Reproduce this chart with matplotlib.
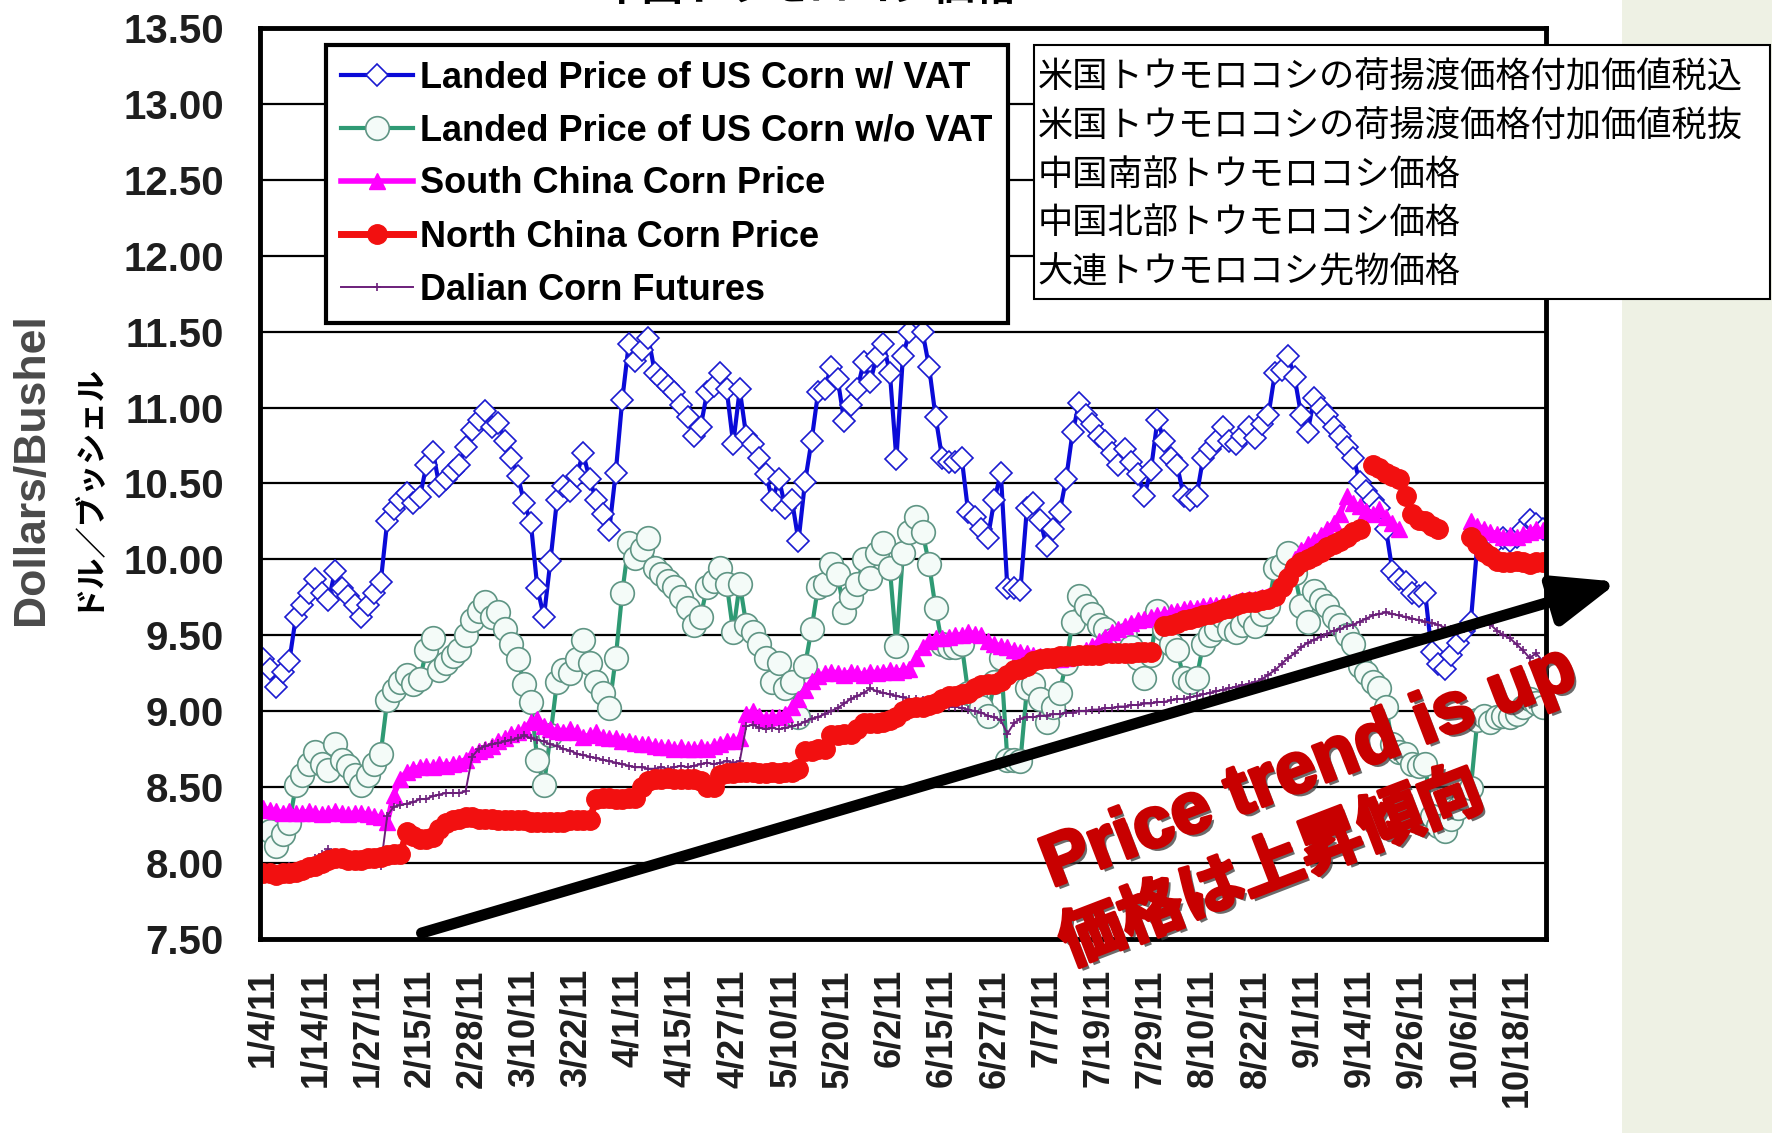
import numpy as np
import matplotlib
matplotlib.use('Agg')
import matplotlib.pyplot as plt
import matplotlib.patheffects as pe
from matplotlib.patches import Rectangle, FancyArrowPatch, ArrowStyle

plt.rcParams['font.family'] = ['Liberation Sans', 'Noto Sans CJK JP', 'DejaVu Sans']

nan = np.nan

# Trading-day series, 2011 (USD per bushel)
date_labels = ['1/4/11', '1/14/11', '1/27/11', '2/15/11', '2/28/11', '3/10/11',
               '3/22/11', '4/1/11', '4/15/11', '4/27/11', '5/10/11', '5/20/11',
               '6/2/11', '6/15/11', '6/27/11', '7/7/11', '7/19/11', '7/29/11',
               '8/10/11', '8/22/11', '9/1/11', '9/14/11', '9/26/11', '10/6/11',
               '10/18/11']

landed_vat = [
    9.34, 9.28, 9.16, 9.26, 9.33, 9.62, 9.70, 9.78, 9.87, 9.78,
    9.73, 9.92, 9.81, 9.76, 9.70, 9.62, 9.70, 9.78, 9.85, 10.25,
    10.33, 10.39, 10.44, 10.37, 10.41, 10.62, 10.71, 10.48, 10.53, 10.58,
    10.62, 10.74, 10.85, 10.92, 10.98, 10.87, 10.90, 10.78, 10.67, 10.55,
    10.37, 10.24, 9.81, 9.62, 9.99, 10.39, 10.48, 10.45, 10.55, 10.70,
    10.53, 10.39, 10.30, 10.19, 10.57, 11.05, 11.42, 11.31, 11.38, 11.46,
    11.23, 11.19, 11.14, 11.10, 11.02, 10.94, 10.81, 10.87, 11.10, 11.14,
    11.23, 11.12, 10.76, 11.12, 10.81, 10.76, 10.67, 10.56, 10.39, 10.53,
    10.34, 10.39, 10.12, 10.51, 10.78, 11.10, 11.12, 11.27, 11.19, 10.91,
    11.02, 11.12, 11.30, 11.17, 11.34, 11.42, 11.23, 10.66, 11.34, 11.50,
    11.62, 11.50, 11.27, 10.94, 10.67, 10.64, 10.64, 10.67, 10.31, 10.28,
    10.20, 10.14, 10.39, 10.57, 9.81, 9.81, 9.80, 10.34, 10.37, 10.26,
    10.09, 10.20, 10.31, 10.53, 10.84, 11.03, 10.95, 10.89, 10.81, 10.78,
    10.70, 10.62, 10.73, 10.64, 10.56, 10.42, 10.59, 10.92, 10.78, 10.67,
    10.62, 10.42, 10.39, 10.42, 10.67, 10.73, 10.78, 10.87, 10.78, 10.76,
    10.81, 10.87, 10.80, 10.89, 10.95, 11.23, 11.25, 11.34, 11.20, 10.95,
    10.84, 11.06, 11.00, 10.95, 10.87, 10.81, 10.74, 10.67, 10.51, 10.45,
    10.39, 10.34, 10.20, 9.92, 9.87, 9.85, 9.78, 9.76, 9.78, 9.39,
    9.31, 9.28, 9.37, 9.45, 9.53, 9.59, 10.10, 10.14, 10.09, 10.12,
    10.14, 10.12, 10.15, 10.20, 10.26, 10.23, 10.20]

landed_novat = [
    8.27, 8.21, 8.11, 8.19, 8.26, 8.51, 8.58, 8.65, 8.73, 8.65,
    8.61, 8.78, 8.68, 8.64, 8.58, 8.51, 8.58, 8.65, 8.72, 9.07,
    9.14, 9.19, 9.24, 9.18, 9.21, 9.40, 9.48, 9.27, 9.32, 9.36,
    9.40, 9.50, 9.60, 9.66, 9.72, 9.62, 9.65, 9.54, 9.44, 9.34,
    9.18, 9.06, 8.68, 8.51, 8.84, 9.19, 9.27, 9.25, 9.34, 9.47,
    9.32, 9.19, 9.12, 9.02, 9.35, 9.78, 10.11, 10.01, 10.07, 10.14,
    9.94, 9.90, 9.86, 9.82, 9.75, 9.68, 9.57, 9.62, 9.82, 9.86,
    9.94, 9.84, 9.52, 9.84, 9.57, 9.52, 9.44, 9.35, 9.19, 9.32,
    9.15, 9.19, 8.96, 9.30, 9.54, 9.82, 9.84, 9.97, 9.90, 9.65,
    9.75, 9.84, 10.00, 9.88, 10.04, 10.11, 9.94, 9.43, 10.04, 10.18,
    10.28, 10.18, 9.97, 9.68, 9.44, 9.42, 9.42, 9.44, 9.12, 9.10,
    9.03, 8.97, 9.19, 9.35, 8.68, 8.68, 8.67, 9.15, 9.18, 9.08,
    8.93, 9.03, 9.12, 9.32, 9.59, 9.76, 9.69, 9.64, 9.57, 9.54,
    9.47, 9.40, 9.50, 9.42, 9.35, 9.22, 9.37, 9.66, 9.54, 9.44,
    9.40, 9.22, 9.19, 9.22, 9.44, 9.50, 9.54, 9.62, 9.54, 9.52,
    9.57, 9.62, 9.56, 9.64, 9.69, 9.94, 9.96, 10.04, 9.91, 9.69,
    9.59, 9.79, 9.73, 9.69, 9.62, 9.57, 9.50, 9.44, 9.30, 9.25,
    9.19, 9.15, 9.03, 8.78, 8.73, 8.72, 8.65, 8.64, 8.65, 8.31,
    8.24, 8.21, 8.29, 8.36, 8.43, 8.49, 8.94, 8.97, 8.93, 8.96,
    8.97, 8.96, 8.98, 9.03, 9.08, 9.05, 9.03]

south_china = [
    8.36, 8.35, 8.34, 8.33, 8.34, 8.33, 8.33, 8.34, 8.33, 8.32,
    8.33, 8.34, 8.33, 8.32, 8.33, 8.33, 8.32, 8.31, 8.30, 8.27,
    8.45, 8.55, 8.60, 8.62, 8.63, 8.64, 8.63, 8.65, 8.64, 8.65,
    8.66, 8.68, 8.72, 8.74, 8.75, 8.77, 8.80, 8.82, 8.85, 8.86,
    8.88, 8.93, 8.95, 8.90, 8.88, 8.87, 8.86, 8.88, 8.86, 8.83,
    8.84, 8.86, 8.83, 8.82, 8.82, 8.80, 8.80, 8.79, 8.78, 8.78,
    8.77, 8.76, 8.76, 8.75, 8.76, 8.75, 8.75, 8.76, 8.75, 8.77,
    8.78, 8.80, 8.80, 8.82, 8.98, 9.00, 8.97, 8.95, 8.96, 8.96,
    8.98, 9.03, 9.08, 9.14, 9.20, 9.23, 9.25, 9.26, 9.25, 9.24,
    9.26, 9.25, 9.24, 9.26, 9.25, 9.26, 9.27, 9.26, 9.27, 9.28,
    9.35, 9.42, 9.46, 9.48, 9.48, 9.49, 9.50, 9.50, 9.52, 9.51,
    9.50, 9.46, 9.44, 9.43, 9.42, 9.40, 9.39, 9.38, 9.37, 9.36,
    9.35, 9.34, 9.34, 9.35, 9.36, 9.38, 9.40, 9.43, 9.46, 9.49,
    9.52, 9.54, 9.56, 9.58, 9.60, 9.61, 9.62, 9.63, 9.64, 9.65,
    9.66, 9.67, 9.68, 9.68, 9.69, 9.70, 9.70, 9.71, 9.72, 9.72,
    9.73, 9.74, 9.74, 9.75, 9.76, 9.80, 9.86, 9.93, 10.00, 10.06,
    10.10, 10.13, 10.16, 10.20, 10.24, 10.30, 10.42, 10.37, 10.35, 10.32,
    10.30, 10.33, 10.28, 10.24, 10.20, nan, nan, nan, nan, nan,
    nan, nan, nan, nan, nan, 10.25, 10.22, 10.20, 10.18, 10.17,
    10.15, 10.16, 10.15, 10.17, 10.18, 10.20, 10.19]

north_china = [
    7.93, 7.93, 7.92, 7.93, 7.93, 7.94, 7.95, 7.97, 7.98, 8.00,
    8.02, 8.03, 8.03, 8.02, 8.02, 8.02, 8.03, 8.03, 8.04, 8.05,
    8.06, 8.06, 8.20, 8.18, 8.16, 8.16, 8.17, 8.22, 8.26, 8.28,
    8.29, 8.30, 8.30, 8.29, 8.29, 8.29, 8.28, 8.28, 8.28, 8.28,
    8.28, 8.27, 8.27, 8.27, 8.27, 8.27, 8.27, 8.28, 8.28, 8.28,
    8.28, 8.42, 8.43, 8.43, 8.42, 8.42, 8.43, 8.43, 8.50, 8.54,
    8.55, 8.55, 8.56, 8.55, 8.55, 8.55, 8.55, 8.54, 8.50, 8.50,
    8.58, 8.59, 8.59, 8.60, 8.60, 8.60, 8.59, 8.59, 8.60, 8.59,
    8.60, 8.60, 8.62, 8.74, 8.74, 8.75, 8.75, 8.84, 8.84, 8.85,
    8.85, 8.88, 8.92, 8.92, 8.92, 8.93, 8.94, 8.96, 9.00, 9.02,
    9.03, 9.03, 9.04, 9.05, 9.08, 9.10, 9.10, 9.11, 9.12, 9.15,
    9.17, 9.18, 9.18, 9.20, 9.24, 9.27, 9.28, 9.30, 9.33, 9.34,
    9.35, 9.35, 9.36, 9.36, 9.36, 9.37, 9.37, 9.37, 9.37, 9.38,
    9.38, 9.38, 9.38, 9.38, 9.39, 9.39, 9.39, nan, 9.56, 9.57,
    9.58, 9.60, 9.61, 9.62, 9.63, 9.64, 9.65, 9.67, 9.68, 9.70,
    9.71, 9.72, 9.72, 9.73, 9.74, 9.76, 9.82, 9.88, 9.95, 9.98,
    10.00, 10.02, 10.05, 10.08, 10.10, 10.12, 10.15, 10.18, 10.20, nan,
    10.62, 10.60, 10.57, 10.55, 10.53, 10.42, 10.30, 10.26, 10.25, 10.22,
    10.20, nan, nan, nan, nan, 10.15, 10.10, 10.05, 10.02, 9.99,
    9.98, 9.98, 9.99, 9.98, 9.97, 9.98, 9.98]

dalian_futures = [
    7.97, 7.97, 7.96, 7.97, 7.98, 7.97, 7.98, 8.00, 8.03, 8.06,
    8.09, 8.05, 8.04, 8.03, 8.02, 8.01, 8.00, 7.99, 7.98, 8.31,
    8.37, 8.38, 8.39, 8.40, 8.42, 8.42, 8.44, 8.45, 8.46, 8.46,
    8.46, 8.47, 8.70, 8.75, 8.77, 8.78, 8.79, 8.80, 8.81, 8.82,
    8.84, 8.82, 8.81, 8.80, 8.78, 8.77, 8.75, 8.74, 8.72, 8.71,
    8.70, 8.69, 8.68, 8.67, 8.66, 8.65, 8.64, 8.63, 8.63, 8.62,
    8.62, 8.63, 8.62, 8.63, 8.64, 8.63, 8.64, 8.65, 8.66, 8.65,
    8.66, 8.67, 8.66, 8.67, 8.90, 8.91, 8.89, 8.88, 8.89, 8.88,
    8.89, 8.90, 8.91, 8.93, 8.95, 8.96, 8.98, 9.00, 9.02, 9.05,
    9.08, 9.10, 9.12, 9.15, 9.13, 9.12, 9.11, 9.10, 9.09, 9.08,
    9.08, 9.07, 9.06, 9.05, 9.04, 9.03, 9.03, 9.02, 9.01, 9.00,
    8.99, 8.97, 8.96, 8.94, 8.85, 8.92, 8.95, 8.96, 8.96, 8.97,
    8.97, 8.98, 8.98, 8.99, 8.99, 9.00, 9.00, 9.01, 9.01, 9.02,
    9.02, 9.03, 9.03, 9.04, 9.04, 9.05, 9.05, 9.06, 9.06, 9.07,
    9.08, 9.08, 9.09, 9.10, 9.11, 9.12, 9.13, 9.14, 9.15, 9.16,
    9.17, 9.18, 9.19, 9.21, 9.24, 9.27, 9.31, 9.35, 9.38, 9.42,
    9.45, 9.47, 9.49, 9.51, 9.53, 9.54, 9.56, 9.57, 9.59, 9.61,
    9.63, 9.64, 9.65, 9.64, 9.63, 9.62, 9.61, 9.60, 9.59, 9.58,
    9.57, 9.55, 9.54, 9.53, 9.54, 9.55, 9.57, 9.58, 9.57, 9.53,
    9.50, 9.48, 9.44, 9.40, 9.35, 9.38, 9.33]

jp_labels = ['米国トウモロコシの荷揚渡価格付加価値税込',
             '米国トウモロコシの荷揚渡価格付加価値税抜',
             '中国南部トウモロコシ価格',
             '中国北部トウモロコシ価格',
             '大連トウモロコシ先物価格']

fig = plt.figure(figsize=(17.72, 11.33), dpi=100)
fig.patch.set_facecolor('white')

# pale side strip
fig.add_artist(Rectangle((0.9152, 0), 0.0848, 1, transform=fig.transFigure,
                         facecolor='#eef1e4', edgecolor='none', zorder=0))

ax = fig.add_axes([0.1467, 0.1715, 0.7257, 0.8036])
x = np.arange(len(landed_vat))

ax.plot(x, landed_novat, color='#2f9a74', lw=3, marker='o', ms=17,
        mfc='#f4fbf8', mec='#5f9584', mew=1.2, zorder=2.0,
        label='Landed Price of US Corn w/o VAT')
ax.plot(x, landed_vat, color='#0a0ad8', lw=3, marker='D', ms=11,
        mfc='white', mec='#1a1ad0', mew=1.2, zorder=2.1,
        label='Landed Price of US Corn w/ VAT')
ax.plot(x, south_china, color='#ff00ff', lw=4, marker='^', ms=11,
        mfc='#ff00ff', mec='#ff00ff', zorder=2.2,
        label='South China Corn Price')
ax.plot(x, dalian_futures, color='#6b1f7a', lw=1.4, marker='+', ms=6,
        mew=1.2, zorder=2.3, label='Dalian Corn Futures')
ax.plot(x, north_china, color='#f21010', lw=5, marker='o', ms=14,
        mfc='#f21010', mec='#f21010', zorder=2.4,
        label='North China Corn Price')

ax.set_xlim(-0.5, len(x) - 0.5)
ax.set_ylim(7.5, 13.5)
yt = np.arange(7.5, 13.51, 0.5)
ax.set_yticks(yt)
ax.set_yticklabels(['%.2f' % v for v in yt], fontsize=29, fontweight='bold',
                   color='#1e1e1e')
ax.set_xticks(x[::8])
ax.set_xticklabels(date_labels, rotation=90, fontsize=26, fontweight='bold',
                   color='#1e1e1e')
ax.tick_params(axis='y', length=0, pad=26)
ax.tick_params(axis='x', length=0, pad=22)

ax.set_axisbelow(True)
ax.yaxis.grid(True, color='black', lw=1.6)
for s in ax.spines.values():
    s.set_linewidth(3.5)
    s.set_color('black')

# legend in plotting order of the original chart
h, l = ax.get_legend_handles_labels()
order = [1, 0, 2, 4, 3]
leg = ax.legend([h[i] for i in order], [l[i] for i in order],
                loc='upper left', bbox_to_anchor=(0.1837, 0.9601),
                bbox_transform=fig.transFigure, borderaxespad=0,
                prop=dict(weight='bold', size=26), frameon=True,
                fancybox=False, edgecolor='black', framealpha=1,
                borderpad=0.42, labelspacing=0.5, handlelength=2.0,
                handletextpad=0.2, numpoints=1)
leg.get_frame().set_linewidth(3)

# Japanese series names
fig.add_artist(Rectangle((0.5835, 0.7358), 0.4152, 0.2243,
                         transform=fig.transFigure, facecolor='white',
                         edgecolor='black', lw=1.5, zorder=3))
for k, txt in enumerate(jp_labels):
    fig.text(0.5855, 0.9322 - k * 0.0431, txt, ha='left', va='center',
             fontsize=25.4, family=['Noto Sans CJK JP'], color='black',
             zorder=4)

# axis titles
fig.text(0.0179, 0.586, 'Dollars/Bushel', rotation=90, ha='center',
         va='center', fontsize=32, fontweight='bold', color='#4a4a4a')
fig.text(0.0478, 0.571, 'ドル／ブッシェル', rotation=90, ha='center',
         va='center', fontsize=22.5, fontweight='bold', color='black',
         family=['Noto Sans CJK JP'])

# heading, cut by the top edge
fig.text(0.456, 1.011, '中国トウモロコシ価格', ha='center', va='center',
         fontsize=30, fontweight='bold', family=['Noto Sans CJK JP'])

# trend arrow
arrow = FancyArrowPatch((0.2379, 0.1765), (0.9133, 0.4865),
                        transform=fig.transFigure,
                        arrowstyle=ArrowStyle('-|>', head_length=38, head_width=15),
                        mutation_scale=1, lw=8, color='black',
                        shrinkA=0, shrinkB=0, zorder=5)
fig.add_artist(arrow)

shadow = [pe.SimplePatchShadow(offset=(2.5, -2.5), shadow_rgbFace='#3a3a3a',
                               alpha=0.75),
          pe.Stroke(linewidth=2.5, foreground='#c80000'), pe.Normal()]
fig.text(0.739, 0.322, 'Price trend is up', rotation=21, rotation_mode='anchor',
         ha='center', va='center', fontsize=52, fontweight='bold',
         color='#c80000', path_effects=shadow, zorder=6)
fig.text(0.7175, 0.2343, '価格は上昇傾向', rotation=21, rotation_mode='anchor',
         ha='center', va='center', fontsize=46, fontweight='bold',
         color='#c80000', family=['Noto Sans CJK JP'], path_effects=shadow,
         zorder=6)

fig.savefig('out.png', dpi=100)
